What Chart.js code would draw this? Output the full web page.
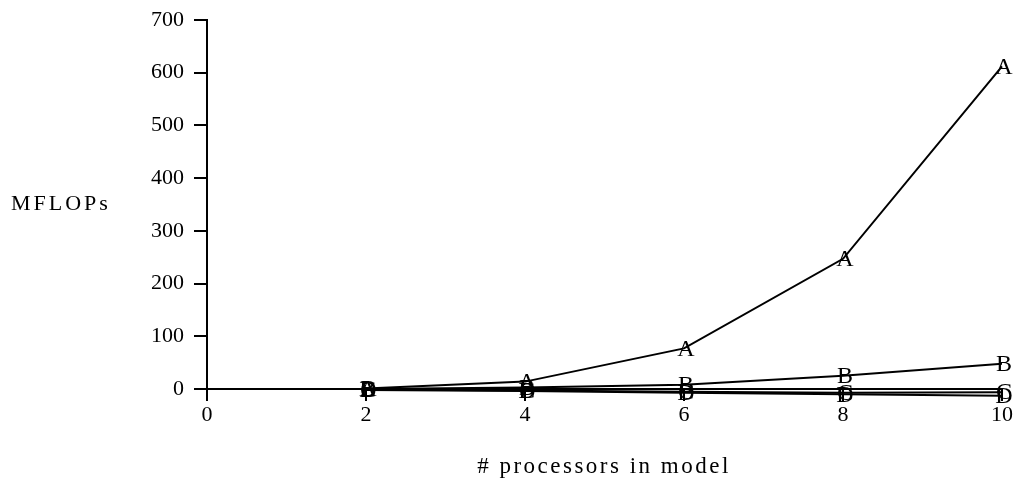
<!DOCTYPE html>
<html>
<head>
<meta charset="utf-8">
<script src="https://cdn.jsdelivr.net/npm/chart.js@4/dist/chart.umd.min.js"></script>
<style>
html,body{margin:0;padding:0;background:#fff;}
#wrap{width:1018px;height:489px;}
</style>
</head>
<body>
<div id="wrap"><canvas id="c" width="1018" height="489"></canvas></div>
<script>
const processors = [2, 4, 6, 8, 10];
const seriesA = [1, 14, 77, 247, 612];
const seriesB = [0, 3, 8, 25, 48];
const seriesC = [-1, -3, -5, -7, -6];
const seriesD = [-2, -4, -7, -10, -13];
const seriesLabels = ['A', 'B', 'C', 'D'];
const yTicks = [0, 100, 200, 300, 400, 500, 600, 700];
const xTicks = [0, 2, 4, 6, 8, 10];
const yTitle = 'MFLOPs';
const xTitle = '# processors in model';

const FONT = '"Liberation Serif", "DejaVu Serif", serif';

function pts(vals){ return processors.map((x,i)=>({x:x,y:vals[i]})); }

const allSeries = [seriesA, seriesB, seriesC, seriesD];
const datasets = allSeries.map((s,i)=>({
  label: seriesLabels[i],
  data: pts(s),
  borderColor: '#000',
  borderWidth: 2,
  pointRadius: 0,
  tension: 0,
  clip: false,
  fill: false
}));

const letterPlugin = {
  id: 'letters',
  afterDatasetsDraw(chart){
    const ctx = chart.ctx;
    ctx.save();
    ctx.fillStyle = '#000';
    ctx.font = '24px ' + FONT;
    ctx.textAlign = 'center';
    ctx.textBaseline = 'middle';
    chart.data.datasets.forEach((ds, di)=>{
      const meta = chart.getDatasetMeta(di);
      meta.data.forEach(p=>{
        ctx.fillText(ds.label, p.x + 2, p.y + 1);
      });
    });
    ctx.restore();
  },
  afterDraw(chart){
    const ctx = chart.ctx;
    ctx.save();
    ctx.fillStyle = '#000';
    ctx.font = '22px ' + FONT;
    ctx.textAlign = 'left';
    ctx.textBaseline = 'middle';
    try { ctx.letterSpacing = '3px'; } catch(e) {}
    ctx.fillText(yTitle, 11, 204);
    ctx.font = '23px ' + FONT;
    try { ctx.letterSpacing = '2.5px'; } catch(e) {}
    ctx.textAlign = 'center';
    ctx.fillText(xTitle, 604, 467);
    ctx.restore();
  }
};

new Chart(document.getElementById('c'), {
  type: 'line',
  data: { datasets: datasets },
  options: {
    responsive: false,
    animation: false,
    devicePixelRatio: 1,
    layout: { padding: { top: 20, right: 16, left: 0, bottom: 0 } },
    plugins: { legend: { display: false }, tooltip: { enabled: false } },
    scales: {
      x: {
        type: 'linear',
        min: 0, max: 10,
        afterBuildTicks(scale){ scale.ticks = xTicks.map(v=>({value:v})); },
        afterFit(scale){ scale.height = 100; scale.paddingLeft = 0; scale.paddingRight = 0; },
        border: { display: true, color: '#000', width: 2 },
        grid: { display: true, drawOnChartArea: false, drawTicks: true, tickLength: 12, color: '#000', lineWidth: 2 },
        ticks: { color: '#000', font: { family: FONT, size: 22 }, padding: 1, maxRotation: 0 }
      },
      y: {
        type: 'linear',
        min: 0, max: 700,
        afterBuildTicks(scale){ scale.ticks = yTicks.map(v=>({value:v})); },
        afterFit(scale){ scale.width = 207; scale.paddingTop = 0; scale.paddingBottom = 0; },
        border: { display: true, color: '#000', width: 2 },
        grid: { display: true, drawOnChartArea: false, drawTicks: true, tickLength: 13, color: '#000', lineWidth: 2 },
        ticks: { color: '#000', font: { family: FONT, size: 22 }, padding: 10 }
      }
    }
  },
  plugins: [letterPlugin]
});
</script>
</body>
</html>
